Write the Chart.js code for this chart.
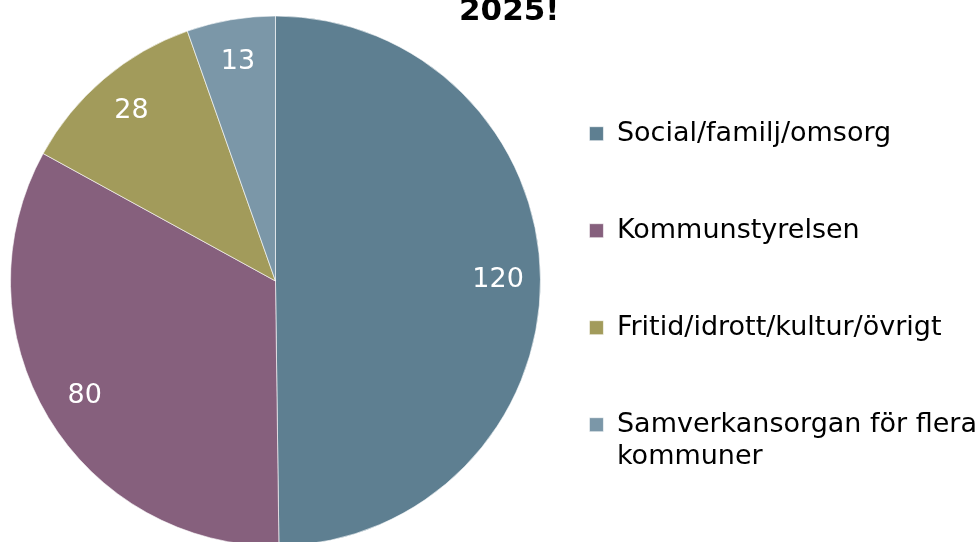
<!DOCTYPE html>
<html lang="sv">
<head>
<meta charset="utf-8">
<script src="https://cdn.jsdelivr.net/npm/chart.js@4/dist/chart.umd.min.js"></script>
<style>
  html, body { margin: 0; padding: 0; background: #fff; overflow: hidden; }
  #wrap { position: relative; width: 976px; height: 546px; }
</style>
</head>
<body>
<div id="wrap"><canvas id="pie"></canvas></div>
<script>
// Data läst från bilden
const kategorier = [
  "Social/familj/omsorg",
  "Kommunstyrelsen",
  "Fritid/idrott/kultur/övrigt",
  ["Samverkansorgan för flera", "kommuner"]
];
const antal = [120, 80, 28, 13];
const farger = ["#5E7F91", "#86607D", "#A29B5B", "#7B97A8"];
const rubrik = "2025!";

const FONT = "'DejaVu Sans', Verdana, sans-serif";

// Etiketter inne i tårtbitarna
const sliceLabels = {
  id: "sliceLabels",
  afterDatasetsDraw(chart) {
    const ctx = chart.ctx;
    const meta = chart.getDatasetMeta(0);
    ctx.save();
    ctx.fillStyle = "#ffffff";
    ctx.font = "27px " + FONT;
    ctx.textAlign = "center";
    ctx.textBaseline = "middle";
    meta.data.forEach((arc, i) => {
      const { x, y, startAngle, endAngle, outerRadius } = arc.getProps(["x", "y", "startAngle", "endAngle", "outerRadius"], true);
      const mid = (startAngle + endAngle) / 2;
      const r = outerRadius * 0.84;
      ctx.fillText(String(antal[i]), x + Math.cos(mid) * r, y + Math.sin(mid) * r);
    });
    ctx.restore();
  }
};

new Chart(document.getElementById("pie"), {
  type: "pie",
  data: {
    labels: kategorier,
    datasets: [{
      data: antal,
      backgroundColor: farger,
      borderColor: "rgba(255,255,255,0.6)",
      borderWidth: 1,
      radius: 265
    }]
  },
  options: {
    responsive: true,
    maintainAspectRatio: false,
    animation: false,
    layout: { padding: { left: 31.5, right: -11, top: 0, bottom: 0 } },
    plugins: {
      title: {
        display: true,
        text: rubrik,
        color: "#000000",
        font: { family: FONT, size: 31, weight: "bold", lineHeight: 1.2 },
        padding: { top: -6.6, bottom: -14.6 }
      },
      legend: {
        position: "right",
        align: "end",
        labels: {
          color: "#000000",
          boxWidth: 14,
          boxHeight: 14,
          padding: 70,
          font: { family: FONT, size: 27, lineHeight: 1.2 }
        }
      },
      tooltip: { enabled: false }
    }
  },
  plugins: [sliceLabels]
});
</script>
</body>
</html>
